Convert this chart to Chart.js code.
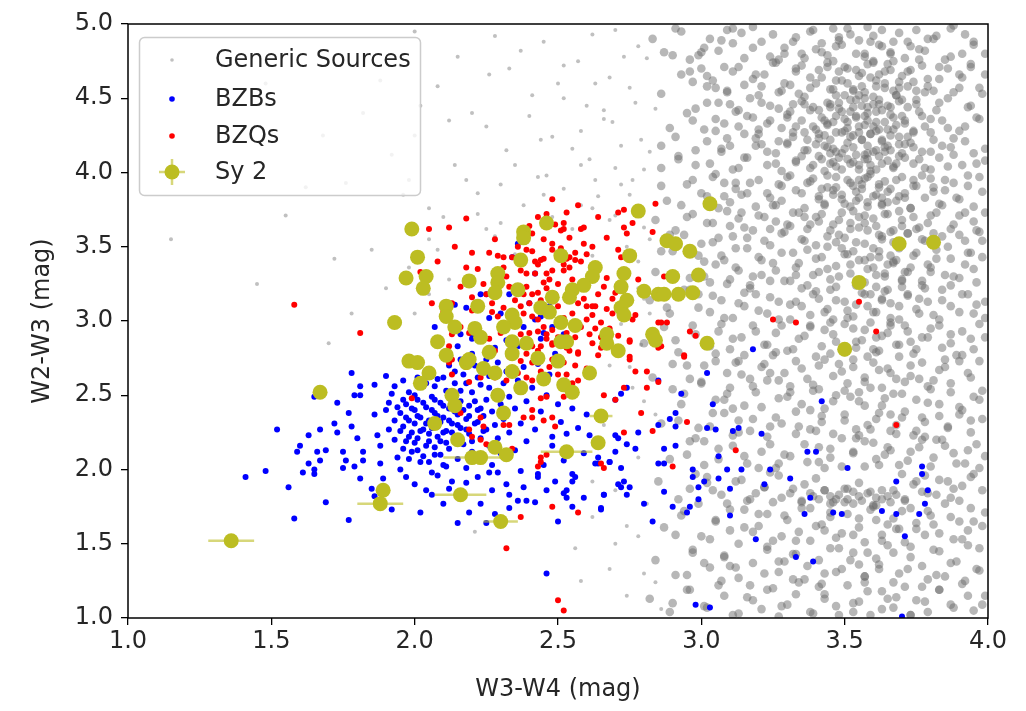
<!DOCTYPE html>
<html>
<head>
<meta charset="utf-8">
<script src="https://cdn.jsdelivr.net/npm/chart.js@4.4.1/dist/chart.umd.min.js"></script>
<style>
  html, body { margin: 0; padding: 0; background: #fff; }
  #wrap { width: 1026px; height: 711px; }
</style>
</head>
<body>
<div id="wrap"><canvas id="colourChart" width="1026" height="711"></canvas></div>
<script>
// tick labels
const xTickLabels = ['1.0', '1.5', '2.0', '2.5', '3.0', '3.5', '4.0'];
const yTickLabels = ['1.0', '1.5', '2.0', '2.5', '3.0', '3.5', '4.0', '4.5', '5.0'];

// Generic Sources [W3-W4, W2-W3]: the lone ones left of the cloud
const genericSparse = [
  [2.62,4.93],[2.78,4.85],[2.45,4.88],[2.70,4.96],[2.52,4.72],[2.68,4.64],[2.81,4.77],[2.33,4.70],[2.41,4.52],[2.60,4.45],[2.75,4.57],[2.84,4.43],[2.25,4.31],[2.48,4.24],[2.66,4.36],[2.79,4.22],[2.58,4.28],[2.12,4.35],[1.92,4.12],[2.35,4.05],[2.55,4.16],[2.70,4.03],[2.82,4.14],[2.61,4.09],[1.76,3.93],[2.22,3.86],[2.43,3.97],[2.64,3.84],[2.76,3.95],[2.52,3.89],[1.55,3.71],[2.05,3.76],[2.30,3.66],[2.58,3.78],[2.80,3.63],[2.70,3.71],[1.15,3.55],[1.85,3.48],[2.28,3.57],[2.62,3.44],[2.82,3.55],[2.74,3.50],[1.45,3.25],[1.98,3.36],[2.78,3.22],[2.05,3.18],[2.82,3.05],[2.79,2.84],[2.75,2.69],[2.80,2.46],[2.84,2.37],[2.78,2.08],[2.70,1.86],[2.62,1.68],[2.81,1.77],[2.56,1.47],[2.78,1.55],[2.21,1.58],[2.68,1.33],[2.84,1.24],[2.74,1.15],[2.86,1.06],
  [1.88,4.62],[2.02,4.45],[2.15,4.78],[2.18,3.95],[2.32,4.15],[2.38,3.78],[2.50,4.60],[2.55,3.62],[2.63,3.95],[2.66,4.42],[2.72,4.18],[2.75,3.85],[2.05,3.55],[2.22,3.72],[1.96,3.85],[2.40,4.38],[2.46,3.98],[2.68,3.68],[2.35,3.45],[2.12,3.28],[1.72,3.42],[2.00,4.95],[2.28,4.92],[1.68,4.25],
  [2.00,3.05],[2.08,3.48],[1.90,3.22],[2.25,3.62],[1.70,2.85],[1.78,3.05],[2.45,3.85],
  [1.95,4.72],[2.08,4.58],[2.20,4.40],[2.26,4.66],[2.37,4.82],[2.44,4.22],[2.52,4.50],[2.57,4.75],[2.63,4.60],[2.69,4.34],[2.73,4.78],[2.77,4.47],[2.80,4.02],[2.58,4.05],[2.48,3.70],[2.62,3.76],[2.72,3.92],[2.30,3.92],[2.14,4.05],[2.00,4.25],[1.82,4.40],[2.10,3.70],[2.40,3.60],[2.78,3.40],[2.80,3.15],[2.72,2.98],[2.76,2.55],[2.66,2.30],[2.62,1.92],[2.70,1.50],[2.58,1.25],[2.80,1.30],[2.74,1.62],[2.68,2.70],[1.62,3.90],[1.48,4.60],[1.98,3.95]
];

// Generic Sources [W3-W4, W2-W3]: the crowded cloud on the right
const genericCloud = [
  [3.52,4.93],[2.87,4.81],[3.71,4.77],[3.18,4.98],[3.95,4.86],[3.44,4.79],[3.03,4.90],[3.63,4.96],[3.29,4.84],[2.96,4.76],[3.82,4.92],[3.57,4.80],[3.11,4.87],[3.38,4.95],[3.76,4.83],[2.91,4.97],[3.67,4.88],[3.24,4.78],[3.49,4.86],[3.88,4.99],[3.06,4.82],[3.60,4.75],[3.33,4.91],[3.99,4.80],[3.14,4.94],[3.46,4.97],[3.73,4.85],[3.21,4.88],[2.99,4.79],[3.55,4.89],[3.85,4.76],[3.40,4.83],[3.66,4.81],[3.09,4.96],[3.92,4.93],[3.27,4.76],[3.58,4.98],[3.79,4.90],[3.35,4.80],[3.48,4.91],[3.69,4.94],[2.83,4.90],[3.01,4.84],[3.62,4.86],[3.42,4.87],
  [3.47,4.62],[3.13,4.71],[3.81,4.55],[2.93,4.66],[3.58,4.73],[3.36,4.51],[3.72,4.68],[3.05,4.57],[3.64,4.60],[3.25,4.74],[3.91,4.64],[3.41,4.69],[2.86,4.53],[3.53,4.56],[3.18,4.63],[3.77,4.72],[3.00,4.70],[3.68,4.52],[3.31,4.59],[3.86,4.70],[3.56,4.67],[3.09,4.54],[3.44,4.74],[3.61,4.58],[3.22,4.66],[3.97,4.57],[3.50,4.71],[3.74,4.61],[3.38,4.64],[2.97,4.61],[3.65,4.73],[3.28,4.55],[3.83,4.63],[3.55,4.52],[3.15,4.59],[3.70,4.65],[3.45,4.56],[3.94,4.71],[3.33,4.70],[3.59,4.64],[3.02,4.65],[3.79,4.58],[3.51,4.60],[3.20,4.52],[3.66,4.69],[3.88,4.54],[3.40,4.60],[3.62,4.66],[3.11,4.68],[3.75,4.55],[3.48,4.68],[3.57,4.54],[3.35,4.72],[3.99,4.66],[3.69,4.57],
  [3.54,4.38],[3.21,4.47],[3.67,4.29],[3.39,4.44],[3.08,4.33],[3.76,4.41],[3.47,4.27],[3.60,4.46],[2.95,4.40],[3.33,4.31],[3.71,4.35],[3.52,4.49],[3.15,4.26],[3.63,4.42],[3.42,4.37],[3.86,4.30],[3.27,4.43],[3.57,4.32],[3.02,4.47],[3.69,4.48],[3.49,4.41],[3.80,4.36],[3.36,4.27],[3.59,4.26],[3.24,4.35],[3.45,4.46],[3.74,4.27],[3.12,4.41],[3.64,4.34],[3.51,4.30],[3.93,4.44],[3.30,4.39],[3.56,4.45],[3.66,4.39],[3.40,4.29],[3.83,4.47],[3.18,4.37],[3.61,4.28],[3.46,4.34],[3.72,4.44],[3.05,4.28],[3.58,4.40],[3.35,4.48],[3.78,4.31],[3.50,4.36],[3.62,4.49],[3.43,4.25],[3.97,4.36],[3.28,4.30],[3.68,4.32],[3.55,4.27],[2.89,4.30],[3.38,4.42],[3.53,4.44],[3.70,4.38],[3.48,4.47],[3.90,4.28],[3.20,4.29],[3.65,4.45],[3.44,4.32],[3.58,4.35],[3.10,4.46],[3.75,4.49],[3.32,4.46],[3.60,4.31],
  [3.49,4.13],[3.63,4.21],[3.26,4.06],[3.71,4.10],[3.40,4.19],[3.55,4.02],[3.07,4.16],[3.81,4.22],[3.46,4.07],[3.60,4.14],[3.19,4.23],[3.67,4.04],[3.35,4.11],[3.52,4.24],[2.92,4.09],[3.74,4.17],[3.43,4.01],[3.58,4.18],[3.13,4.03],[3.88,4.12],[3.30,4.20],[3.65,4.08],[3.50,4.16],[3.78,4.03],[3.23,4.14],[3.57,4.09],[3.41,4.23],[3.96,4.06],[3.69,4.19],[3.02,4.21],[3.47,4.04],[3.62,4.11],[3.37,4.15],[3.84,4.18],[3.54,4.12],[3.16,4.10],[3.72,4.24],[3.44,4.17],[3.59,4.05],[3.28,4.01],[3.66,4.15],[3.92,4.21],[3.51,4.20],[3.33,4.08],[3.76,4.09],[3.10,4.18],[3.61,4.02],[3.48,4.10],[3.70,4.13],[2.98,4.05],[3.39,4.05],[3.56,4.22],[3.80,4.14],[3.21,4.19],[3.64,4.17],[3.45,4.13],[3.99,4.16],[3.53,4.07],[3.32,4.24],[3.68,4.06],[3.58,4.13],[3.86,4.04],[3.42,4.09],[2.86,4.18],[3.73,4.20],
  [2.86,3.91],[2.93,3.78],[2.97,3.95],[3.02,3.84],[3.05,3.99],[3.10,3.80],[3.12,3.89],[3.17,3.93],[3.19,3.77],[3.23,3.86],[3.28,3.81],[3.30,3.97],[3.33,3.88],[3.36,3.76],[3.37,3.93],[3.41,3.84],[3.43,3.79],[3.44,3.98],[3.47,3.90],[3.49,3.82],[3.51,3.95],[3.52,3.77],[3.54,3.87],[3.56,3.92],[3.58,3.80],[3.59,3.99],[3.61,3.85],[3.63,3.78],[3.64,3.94],[3.66,3.89],[3.68,3.81],[3.70,3.97],[3.71,3.86],[3.73,3.76],[3.75,3.91],[3.78,3.83],[3.80,3.96],[3.83,3.79],[3.85,3.88],[3.88,3.93],[3.90,3.82],[3.93,3.98],[3.95,3.77],[3.98,3.87],[3.46,3.85],[3.55,3.83],[3.62,3.90],[3.39,3.96],[3.69,3.84],[3.27,3.92],[3.14,3.85],[3.50,3.79],[3.57,3.96],[3.65,3.80],[3.08,3.93],[3.81,3.90],[3.25,3.78],[3.53,3.91],[3.74,3.95],[3.42,3.89],
  [2.89,3.58],[2.95,3.70],[3.00,3.52],[3.04,3.66],[3.09,3.74],[3.11,3.57],[3.15,3.63],[3.20,3.71],[3.22,3.54],[3.26,3.67],[3.29,3.60],[3.32,3.73],[3.35,3.55],[3.38,3.65],[3.40,3.51],[3.42,3.72],[3.45,3.61],[3.48,3.68],[3.50,3.56],[3.53,3.74],[3.55,3.63],[3.57,3.52],[3.60,3.69],[3.62,3.58],[3.65,3.72],[3.67,3.53],[3.70,3.64],[3.72,3.59],[3.74,3.70],[3.77,3.55],[3.79,3.66],[3.82,3.73],[3.84,3.57],[3.87,3.62],[3.90,3.71],[3.92,3.54],[3.95,3.67],[3.97,3.60],[3.99,3.73],[3.36,3.70],[3.47,3.53],[3.58,3.61],[3.69,3.74],[3.52,3.66],[3.63,3.55],[3.44,3.57],[3.75,3.62],[3.13,3.69],[3.24,3.62],[3.06,3.56],[3.81,3.59],[3.31,3.64],[3.57,3.71],[3.66,3.60],[3.41,3.67],
  [2.84,3.33],[2.90,3.47],[2.96,3.29],[3.01,3.40],[3.03,3.26],[3.07,3.44],[3.12,3.36],[3.16,3.49],[3.18,3.30],[3.21,3.41],[3.26,3.34],[3.28,3.46],[3.31,3.27],[3.34,3.39],[3.37,3.48],[3.39,3.31],[3.42,3.43],[3.45,3.28],[3.47,3.37],[3.50,3.45],[3.52,3.32],[3.55,3.41],[3.57,3.26],[3.60,3.36],[3.62,3.47],[3.64,3.30],[3.67,3.40],[3.69,3.49],[3.72,3.33],[3.74,3.44],[3.77,3.27],[3.79,3.38],[3.82,3.48],[3.85,3.31],[3.87,3.42],[3.90,3.29],[3.93,3.46],[3.95,3.35],[3.98,3.43],[3.24,3.27],[3.49,3.49],[3.59,3.43],[3.70,3.28],[3.44,3.35],[3.65,3.38],[3.53,3.47],[3.33,3.31],[3.80,3.36],[3.10,3.28],[3.61,3.31],
  [2.82,3.14],[2.89,3.05],[2.94,3.21],[2.99,3.09],[3.04,3.17],[3.08,3.02],[3.13,3.12],[3.17,3.24],[3.20,3.07],[3.24,3.16],[3.27,3.01],[3.31,3.11],[3.35,3.22],[3.38,3.04],[3.41,3.15],[3.44,3.08],[3.47,3.23],[3.50,3.13],[3.53,3.03],[3.56,3.19],[3.58,3.10],[3.61,3.06],[3.64,3.20],[3.66,3.12],[3.69,3.01],[3.72,3.17],[3.75,3.08],[3.78,3.22],[3.81,3.04],[3.84,3.14],[3.87,3.24],[3.90,3.06],[3.93,3.18],[3.96,3.11],[3.99,3.02],[3.46,3.01],[3.54,3.24],[3.63,3.14],[3.70,3.23],[3.40,3.20],[3.59,3.18],[3.33,3.13],[3.76,3.15],[3.15,3.19],[3.51,3.07],
  [2.80,2.85],[2.87,2.96],[2.92,2.79],[2.98,2.91],[3.03,2.83],[3.07,2.98],[3.11,2.88],[3.15,2.77],[3.19,2.93],[3.23,2.84],[3.28,2.97],[3.32,2.81],[3.36,2.90],[3.40,2.76],[3.43,2.94],[3.47,2.86],[3.50,2.79],[3.53,2.95],[3.56,2.87],[3.59,2.99],[3.62,2.80],[3.65,2.92],[3.68,2.84],[3.71,2.97],[3.74,2.78],[3.77,2.89],[3.80,2.95],[3.84,2.82],[3.87,2.91],[3.91,2.77],[3.94,2.88],[3.97,2.98],[3.58,2.76],[3.45,2.99],[3.66,2.99],[3.26,2.79],[3.54,2.82],[3.73,2.86],[3.38,2.97],[3.61,2.89],
  [2.83,2.62],[2.90,2.54],[2.95,2.70],[3.00,2.58],[3.05,2.73],[3.09,2.51],[3.14,2.64],[3.18,2.56],[3.22,2.71],[3.27,2.60],[3.31,2.52],[3.35,2.68],[3.39,2.57],[3.43,2.74],[3.46,2.63],[3.50,2.53],[3.53,2.69],[3.57,2.59],[3.60,2.72],[3.63,2.55],[3.66,2.65],[3.70,2.51],[3.73,2.70],[3.76,2.61],[3.80,2.54],[3.83,2.67],[3.87,2.58],[3.90,2.73],[3.94,2.62],[3.98,2.53],[3.48,2.71],[3.55,2.52],[3.68,2.61],[3.24,2.65],[3.41,2.54],[3.62,2.67],[3.85,2.74],[3.12,2.72],
  [2.86,2.31],[2.93,2.44],[2.99,2.28],[3.04,2.38],[3.08,2.47],[3.13,2.33],[3.17,2.26],[3.21,2.42],[3.26,2.35],[3.30,2.49],[3.34,2.29],[3.38,2.40],[3.42,2.32],[3.46,2.46],[3.50,2.37],[3.54,2.27],[3.57,2.43],[3.61,2.34],[3.64,2.48],[3.68,2.30],[3.71,2.39],[3.75,2.26],[3.79,2.45],[3.83,2.36],[3.86,2.28],[3.90,2.42],[3.94,2.33],[3.97,2.47],[3.52,2.49],[3.40,2.26],[3.66,2.37],[3.24,2.29],[3.59,2.27],[3.77,2.35],[3.11,2.41],
  [2.89,2.07],[2.96,2.19],[3.01,2.03],[3.06,2.14],[3.11,2.23],[3.15,2.09],[3.20,2.01],[3.24,2.17],[3.29,2.10],[3.33,2.24],[3.37,2.05],[3.41,2.15],[3.45,2.08],[3.49,2.21],[3.53,2.12],[3.57,2.02],[3.60,2.18],[3.64,2.10],[3.68,2.24],[3.72,2.06],[3.76,2.15],[3.80,2.02],[3.84,2.20],[3.88,2.11],[3.92,2.04],[3.96,2.17],[3.99,2.09],[3.55,2.23],[3.43,2.01],[3.66,2.13],[3.27,2.04],[3.62,2.03],[3.78,2.22],
  [2.85,1.92],[2.92,1.80],[2.98,1.97],[3.04,1.86],[3.09,1.77],[3.14,1.93],[3.19,1.84],[3.24,1.98],[3.28,1.81],[3.32,1.87],[3.35,1.79],[3.38,1.84],[3.41,1.80],[3.43,1.86],[3.46,1.78],[3.48,1.83],[3.51,1.80],[3.53,1.85],[3.56,1.79],[3.58,1.84],[3.61,1.81],[3.63,1.86],[3.66,1.78],[3.68,1.83],[3.71,1.80],[3.74,1.90],[3.78,1.96],[3.82,1.83],[3.86,1.92],[3.90,1.79],[3.94,1.95],[3.98,1.86],[3.40,1.94],[3.55,1.91],[3.70,1.97],[3.22,1.88],[3.60,1.76],[3.45,1.82],[3.65,1.82],[3.50,1.87],[3.36,1.90],[3.16,1.79],[3.88,1.87],[3.02,1.91],[3.77,1.85],
  [2.87,1.61],[2.94,1.72],[3.00,1.55],[3.05,1.66],[3.10,1.59],[3.15,1.73],[3.20,1.62],[3.25,1.52],[3.29,1.69],[3.34,1.58],[3.38,1.74],[3.42,1.63],[3.47,1.54],[3.51,1.70],[3.55,1.61],[3.59,1.73],[3.63,1.56],[3.67,1.67],[3.71,1.51],[3.75,1.64],[3.79,1.72],[3.83,1.57],[3.87,1.68],[3.91,1.53],[3.95,1.65],[3.99,1.71],[3.45,1.68],[3.57,1.51],[3.69,1.60],[3.33,1.52],[3.61,1.66],[3.81,1.63],[3.23,1.70],[3.49,1.57],[3.73,1.74],
  [2.84,1.39],[2.91,1.29],[2.97,1.46],[3.03,1.34],[3.08,1.42],[3.13,1.27],[3.18,1.37],[3.23,1.48],[3.27,1.31],[3.32,1.43],[3.36,1.26],[3.41,1.39],[3.45,1.47],[3.49,1.33],[3.53,1.44],[3.57,1.28],[3.61,1.40],[3.65,1.49],[3.69,1.30],[3.73,1.41],[3.77,1.35],[3.81,1.46],[3.85,1.28],[3.89,1.38],[3.93,1.49],[3.97,1.32],[3.55,1.36],[3.43,1.30],[3.67,1.44],[3.29,1.38],[3.79,1.26],[3.10,1.35],[3.62,1.33],
  [2.82,1.13],[2.89,1.04],[2.95,1.19],[3.01,1.08],[3.06,1.22],[3.11,1.02],[3.16,1.14],[3.21,1.06],[3.25,1.20],[3.30,1.09],[3.34,1.24],[3.39,1.03],[3.43,1.16],[3.47,1.08],[3.51,1.22],[3.55,1.11],[3.59,1.02],[3.63,1.18],[3.67,1.07],[3.71,1.21],[3.75,1.12],[3.79,1.04],[3.83,1.19],[3.87,1.09],[3.91,1.23],[3.95,1.05],[3.99,1.15],[3.53,1.04],[3.41,1.21],[3.65,1.13],[3.27,1.01],[3.57,1.24],[3.73,1.02]
];

// Generic Sources [W3-W4, W2-W3]: further sources filling the same cloud
const genericCloudFill = [
  [2.93,4.95],[3.00,4.81],[3.07,4.89],[3.11,4.97],[3.18,4.84],[3.25,4.93],[3.29,4.80],[3.32,4.88],[3.39,4.96],[3.42,4.81],[3.48,4.89],[3.51,4.97],[3.54,4.80],[3.60,4.92],[3.63,4.85],[3.66,4.80],[3.72,4.88],[3.75,4.96],[3.78,4.82],[3.81,4.90],[3.87,4.97],[3.91,4.80],[3.95,4.88],[3.47,4.85],[3.59,4.88],
  [2.90,4.79],[2.96,4.68],[3.04,4.62],[3.08,4.71],[3.15,4.77],[3.19,4.66],[3.26,4.74],[3.29,4.60],[3.33,4.68],[3.36,4.77],[3.42,4.64],[3.46,4.75],[3.49,4.62],[3.51,4.70],[3.55,4.65],[3.57,4.78],[3.60,4.74],[3.64,4.68],[3.67,4.75],[3.69,4.61],[3.73,4.69],[3.76,4.76],[3.79,4.63],[3.83,4.71],[3.87,4.78],[3.90,4.66],[3.94,4.73],[3.54,4.69],[3.61,4.62],[3.44,4.71],
  [2.98,4.43],[3.02,4.58],[3.06,4.47],[3.09,4.55],[3.13,4.42],[3.17,4.50],[3.21,4.58],[3.24,4.45],[3.27,4.54],[3.31,4.41],[3.34,4.53],[3.36,4.46],[3.38,4.57],[3.41,4.42],[3.44,4.47],[3.46,4.56],[3.48,4.43],[3.50,4.52],[3.52,4.41],[3.54,4.49],[3.56,4.58],[3.58,4.44],[3.60,4.51],[3.62,4.46],[3.64,4.57],[3.66,4.44],[3.68,4.52],[3.70,4.49],[3.72,4.58],[3.75,4.46],[3.78,4.54],[3.82,4.42],[3.86,4.50],[3.90,4.57],[3.94,4.45],[3.98,4.53],[3.45,4.44],[3.53,4.55],[3.61,4.41],[3.67,4.55],[3.47,4.52],[3.57,4.50],
  [2.91,4.24],[2.97,4.35],[3.01,4.29],[3.05,4.36],[3.09,4.23],[3.13,4.31],[3.16,4.38],[3.20,4.26],[3.23,4.33],[3.27,4.21],[3.30,4.37],[3.32,4.27],[3.35,4.35],[3.37,4.22],[3.39,4.31],[3.41,4.26],[3.43,4.35],[3.45,4.22],[3.47,4.38],[3.49,4.27],[3.51,4.34],[3.53,4.25],[3.55,4.31],[3.57,4.38],[3.59,4.26],[3.61,4.34],[3.63,4.22],[3.65,4.29],[3.67,4.37],[3.69,4.24],[3.71,4.33],[3.74,4.28],[3.77,4.38],[3.80,4.27],[3.84,4.35],[3.88,4.23],[3.92,4.31],[3.96,4.37],[3.50,4.28],[3.56,4.22],[3.62,4.29],[3.44,4.33],[3.54,4.37],[3.66,4.25],
  [2.86,4.03],[2.92,4.11],[2.98,4.15],[3.03,4.06],[3.07,4.14],[3.11,4.02],[3.15,4.10],[3.19,4.18],[3.23,4.05],[3.26,4.13],[3.30,4.19],[3.33,4.07],[3.36,4.15],[3.38,4.03],[3.41,4.11],[3.43,4.18],[3.45,4.06],[3.47,4.14],[3.49,4.02],[3.51,4.09],[3.53,4.17],[3.55,4.05],[3.57,4.12],[3.59,4.01],[3.61,4.15],[3.63,4.06],[3.65,4.18],[3.67,4.03],[3.69,4.11],[3.71,4.19],[3.74,4.06],[3.77,4.14],[3.80,4.02],[3.83,4.10],[3.87,4.17],[3.91,4.05],[3.95,4.13],[3.99,4.08],[3.52,4.06],[3.58,4.09],[3.64,4.14],[3.46,4.16],
  [2.88,3.81],[2.95,3.92],[3.00,3.86],[3.04,3.97],[3.08,3.84],[3.12,3.93],[3.16,3.86],[3.20,3.95],[3.24,3.83],[3.28,3.91],[3.31,3.98],[3.35,3.86],[3.38,3.94],[3.41,3.82],[3.44,3.90],[3.47,3.97],[3.49,3.85],[3.52,3.93],[3.54,3.81],[3.56,3.89],[3.58,3.97],[3.60,3.84],[3.62,3.92],[3.65,3.87],[3.68,3.95],[3.71,3.83],[3.74,3.91],[3.77,3.98],[3.81,3.87],[3.85,3.95],[3.89,3.83],[3.93,3.91],[3.97,3.97],[3.55,3.95],[3.63,3.83],[3.46,3.88],
  [2.84,3.68],[2.91,3.61],[2.97,3.72],[3.02,3.66],[3.06,3.76],[3.10,3.64],[3.14,3.73],[3.18,3.61],[3.22,3.70],[3.26,3.78],[3.30,3.65],[3.34,3.73],[3.37,3.62],[3.40,3.70],[3.43,3.78],[3.46,3.65],[3.49,3.73],[3.52,3.62],[3.55,3.70],[3.58,3.77],[3.61,3.64],[3.64,3.72],[3.67,3.61],[3.70,3.68],[3.73,3.76],[3.76,3.63],[3.80,3.71],[3.84,3.78],[3.88,3.65],[3.92,3.73],[3.96,3.61],[3.57,3.66],[3.63,3.79],
  [2.86,3.47],[2.94,3.58],[2.99,3.44],[3.04,3.53],[3.08,3.41],[3.12,3.49],[3.16,3.56],[3.20,3.43],[3.24,3.51],[3.28,3.59],[3.32,3.46],[3.36,3.54],[3.40,3.42],[3.44,3.50],[3.48,3.58],[3.51,3.45],[3.54,3.53],[3.57,3.41],[3.60,3.49],[3.63,3.57],[3.66,3.44],[3.69,3.52],[3.72,3.59],[3.75,3.46],[3.78,3.54],[3.82,3.42],[3.86,3.50],[3.90,3.58],[3.94,3.46],[3.98,3.54],[3.62,3.43],[3.68,3.41],
  [2.90,3.31],[2.96,3.21],[3.01,3.30],[3.05,3.38],[3.09,3.25],[3.13,3.34],[3.17,3.22],[3.21,3.31],[3.25,3.39],[3.29,3.27],[3.33,3.36],[3.37,3.24],[3.41,3.33],[3.45,3.21],[3.48,3.30],[3.52,3.38],[3.55,3.26],[3.58,3.35],[3.61,3.23],[3.64,3.32],[3.67,3.39],[3.70,3.27],[3.73,3.36],[3.77,3.24],[3.80,3.33],[3.84,3.21],[3.88,3.30],[3.92,3.38],[3.96,3.26],[3.65,3.21],[3.71,3.33],
  [2.88,3.09],[2.99,3.18],[3.03,3.06],[3.07,3.14],[3.11,3.02],[3.15,3.10],[3.19,3.18],[3.23,3.05],[3.27,3.13],[3.31,3.01],[3.35,3.10],[3.39,3.18],[3.43,3.06],[3.47,3.14],[3.51,3.02],[3.54,3.11],[3.57,3.18],[3.60,3.06],[3.63,3.15],[3.66,3.02],[3.69,3.10],[3.72,3.18],[3.76,3.05],[3.79,3.13],[3.83,3.01],[3.87,3.10],[3.91,3.18],[3.95,3.05],[3.99,3.13],
  [2.91,2.87],[2.97,2.97],[3.02,2.85],[3.06,2.93],[3.10,2.81],[3.14,2.89],[3.18,2.97],[3.22,2.84],[3.26,2.92],[3.30,2.80],[3.34,2.88],[3.38,2.96],[3.42,2.83],[3.46,2.91],[3.50,2.98],[3.54,2.86],[3.57,2.94],[3.60,2.81],[3.63,2.90],[3.66,2.97],[3.69,2.84],[3.72,2.93],[3.75,2.81],[3.79,2.89],[3.83,2.97],[3.87,2.85],[3.91,2.93],[3.95,2.81],[3.99,2.89],
  [2.90,2.71],[2.96,2.61],[3.01,2.70],[3.05,2.78],[3.09,2.65],[3.13,2.73],[3.17,2.61],[3.21,2.69],[3.25,2.77],[3.29,2.65],[3.33,2.73],[3.37,2.61],[3.41,2.70],[3.45,2.78],[3.49,2.66],[3.53,2.74],[3.57,2.62],[3.61,2.79],[3.65,2.68],[3.69,2.76],[3.73,2.63],[3.77,2.72],[3.81,2.60],[3.85,2.69],[3.89,2.77],[3.93,2.65],[3.97,2.73],
  [2.94,2.51],[3.00,2.59],[3.05,2.47],[3.10,2.55],[3.15,2.43],[3.19,2.52],[3.23,2.60],[3.27,2.48],[3.31,2.56],[3.35,2.44],[3.39,2.53],[3.43,2.41],[3.47,2.50],[3.51,2.58],[3.55,2.46],[3.59,2.55],[3.63,2.43],[3.67,2.51],[3.71,2.59],[3.75,2.47],[3.79,2.56],[3.83,2.44],[3.87,2.52],[3.91,2.40],[3.95,2.49],
  [2.92,2.33],[2.98,2.21],[3.03,2.29],[3.08,2.38],[3.13,2.25],[3.18,2.34],[3.23,2.22],[3.28,2.31],[3.33,2.39],[3.38,2.27],[3.42,2.36],[3.46,2.24],[3.50,2.33],[3.54,2.21],[3.58,2.30],[3.62,2.38],[3.66,2.26],[3.70,2.35],[3.74,2.23],[3.78,2.32],[3.82,2.20],[3.86,2.29],[3.90,2.37],[3.94,2.25],[3.98,2.34],
  [2.95,2.10],[3.01,2.19],[3.06,2.07],[3.11,2.16],[3.16,2.04],[3.21,2.12],[3.26,2.01],[3.31,2.09],[3.36,2.17],[3.41,2.05],[3.45,2.14],[3.49,2.02],[3.53,2.11],[3.57,2.19],[3.61,2.07],[3.65,2.15],[3.69,2.03],[3.73,2.12],[3.77,2.20],[3.81,2.08],[3.85,2.16],[3.89,2.04],[3.93,2.13],[3.97,2.01],
  [2.96,1.87],[3.02,1.95],[3.07,1.83],[3.12,1.92],[3.17,1.80],[3.22,1.88],[3.27,1.96],[3.31,1.84],[3.35,1.78],[3.39,1.82],[3.43,1.86],[3.47,1.80],[3.51,1.87],[3.55,1.82],[3.59,1.85],[3.63,1.80],[3.67,1.86],[3.71,1.79],[3.75,1.92],[3.79,1.84],[3.83,1.93],[3.87,1.81],[3.91,1.89],[3.95,1.97],[3.45,1.77],[3.53,1.77],[3.61,1.76],
  [2.93,1.69],[2.99,1.77],[3.05,1.65],[3.10,1.73],[3.15,1.61],[3.20,1.70],[3.25,1.78],[3.30,1.66],[3.35,1.74],[3.40,1.62],[3.45,1.71],[3.50,1.78],[3.55,1.67],[3.60,1.75],[3.65,1.63],[3.70,1.72],[3.75,1.60],[3.80,1.69],[3.85,1.77],[3.90,1.65],[3.94,1.74],[3.98,1.62],
  [2.91,1.56],[2.97,1.44],[3.03,1.53],[3.08,1.41],[3.13,1.50],[3.18,1.58],[3.23,1.46],[3.28,1.55],[3.33,1.43],[3.38,1.52],[3.43,1.59],[3.48,1.47],[3.53,1.56],[3.58,1.44],[3.63,1.52],[3.68,1.60],[3.73,1.48],[3.78,1.56],[3.83,1.45],[3.88,1.53],[3.93,1.59],[3.97,1.47],
  [2.95,1.29],[3.01,1.37],[3.07,1.25],[3.12,1.34],[3.17,1.22],[3.22,1.30],[3.27,1.38],[3.32,1.26],[3.37,1.35],[3.42,1.23],[3.47,1.31],[3.52,1.39],[3.57,1.28],[3.62,1.36],[3.67,1.24],[3.72,1.33],[3.77,1.21],[3.82,1.29],[3.87,1.37],[3.92,1.25],[3.96,1.33],
  [2.90,1.10],[2.96,1.19],[3.02,1.07],[3.08,1.15],[3.13,1.03],[3.18,1.12],[3.23,1.19],[3.28,1.08],[3.33,1.16],[3.38,1.04],[3.43,1.13],[3.48,1.02],[3.53,1.10],[3.58,1.18],[3.63,1.06],[3.68,1.14],[3.73,1.02],[3.78,1.11],[3.83,1.19],[3.88,1.07],[3.93,1.15],[3.98,1.09]
];

// BZBs [W3-W4, W2-W3]
const bzbPoints = [
  [1.41,1.95],[1.48,1.99],[1.52,2.27],[1.56,1.88],[1.58,1.67],[1.59,2.12],[1.60,2.16],[1.63,2.23],[1.61,1.98],[1.63,2.04],[1.65,1.97],[1.65,2.00],[1.65,2.49],[1.66,2.12],[1.67,2.27],[1.67,2.06],[1.69,1.78],[1.69,2.13],[1.72,2.31],[1.73,2.45],[1.73,2.25],[1.75,2.12],[1.75,2.01],[1.76,2.06],[1.77,1.66],[1.77,2.38],[1.78,2.65],[1.78,2.29],[1.79,2.02],[1.79,2.50],[1.80,2.21],[1.81,2.56],[1.81,2.50],[1.81,1.94],[1.82,2.12],[1.82,2.06],[1.85,1.87],[1.86,1.82],[1.86,2.57],[1.86,2.37],[1.87,2.23],[1.88,2.16],[1.88,2.04],[1.90,2.63],[1.89,1.94],[1.90,2.40],[1.91,2.27],[1.92,1.73],[1.92,2.51],[1.91,2.45],[1.93,2.33],[1.93,2.20],[1.94,2.08],
  [1.95,2.38],[1.96,2.29],[1.97,2.44],[1.97,2.19],[1.98,2.33],[1.98,2.52],[1.99,2.25],[1.99,2.12],[2.00,2.40],[2.00,2.31],[2.01,2.21],[2.01,2.47],[2.02,2.35],[2.02,2.05],[2.03,2.27],[2.03,2.56],[2.04,2.42],[2.04,2.16],[2.05,2.33],[2.05,2.24],[2.06,2.49],[2.06,1.98],[2.07,2.38],[2.07,2.10],[2.08,2.29],[2.08,2.61],[2.09,2.45],[2.09,2.19],[2.10,2.35],[2.10,2.03],[2.11,2.26],[2.11,2.53],[2.12,2.41],[2.12,2.14],[2.13,2.31],[2.13,1.92],[2.14,2.22],[2.14,2.58],[2.15,2.37],[2.15,2.07],[2.16,2.46],[2.16,2.28],[2.17,2.17],[2.17,2.64],[2.18,2.34],[2.18,2.01],[2.19,2.43],[2.19,2.24],[2.20,2.52],[2.20,2.12],[2.21,2.31],[2.21,2.70],[2.22,2.40],[2.22,1.95],[2.23,2.21],[2.23,2.57],[2.24,2.36],[2.24,2.09],[2.25,2.47],[2.25,2.27],[2.26,2.63],[2.26,2.16],[2.27,2.39],[2.27,2.03],[2.28,2.52],[2.28,2.30],[2.29,2.72],[2.29,2.21],[2.30,2.44],[2.30,2.11],[2.31,2.58],[2.31,2.34],[2.32,2.66],[2.32,1.90],[2.33,2.49],[2.33,2.25],[2.34,2.77],[2.35,2.41],[2.35,2.13],[2.36,2.60],[2.37,2.31],[2.37,1.99],[2.38,2.69],[2.39,2.46],[2.39,2.19],[2.40,2.83],[2.41,2.55],[2.42,2.27],[2.43,2.71],[2.44,2.39],[2.45,2.92],[2.46,2.50],[2.47,2.64],[2.48,2.22],[2.49,2.78],[2.50,2.44],
  [1.95,2.26],[1.96,2.47],[1.97,2.35],[1.98,2.22],[1.99,2.41],[2.00,2.18],[2.00,2.50],[2.01,2.36],[2.02,2.26],[2.03,2.45],[2.04,2.31],[2.05,2.19],[2.06,2.40],[2.06,2.28],[2.07,2.47],[2.08,2.36],[2.08,2.22],[2.09,2.32],[2.10,2.43],[2.10,2.25],[2.11,2.18],[2.12,2.33],[2.12,2.50],[2.13,2.25],[2.14,2.39],[2.15,2.30],[2.16,2.20],[2.16,2.53],[2.17,2.40],[2.18,2.27],[2.19,2.36],[2.20,2.19],[2.21,2.46],[2.22,2.32],[2.23,2.41],[2.24,2.26],[1.94,2.42],[1.96,2.14],[1.98,2.07],[2.01,2.13],[2.03,2.09],[2.05,2.05],[2.07,2.15],[2.09,2.10],[2.11,2.02],[1.95,2.00],[1.97,1.95],[2.00,1.90],[2.04,1.86],[2.08,1.96],[1.93,2.56],[1.96,2.60],[2.01,2.62],[2.04,2.58],[2.07,2.56],[2.10,2.62],[2.14,2.66],[2.18,2.58],[2.22,2.62],[2.26,2.55],[2.12,2.70],[2.16,2.74],[2.20,2.78],[2.25,2.74],[2.28,2.82],[2.32,2.87],[2.36,2.83],[2.30,2.94],[2.38,2.96],[2.42,3.01],[2.35,3.05],[2.44,2.88],[2.47,3.10],[2.40,3.12],[2.33,3.18],[2.26,3.02],[2.20,2.88],[2.15,2.83],
  [2.36,3.52],[2.34,3.43],[2.42,3.32],[2.23,3.18],[2.25,3.18],[2.07,2.96],[2.18,3.09],[2.14,3.11],[2.16,2.91],[2.20,2.91],[2.30,3.05],[2.44,3.03],[2.48,2.96],[2.52,2.91],
  [2.02,1.71],[2.10,1.77],[2.15,1.64],[2.23,1.77],[2.26,1.98],[2.29,1.98],[2.33,1.83],[2.33,1.74],[2.36,1.79],[2.39,1.79],[2.42,1.78],[2.43,1.97],[2.43,1.95],[2.50,1.65],[2.38,1.88],[2.46,1.86],[2.49,1.92],[2.53,1.81],[2.45,2.03],[2.52,2.06],[2.56,1.95],[2.06,1.83],[2.12,1.87],[2.18,1.91],[2.19,1.71],[2.27,1.86],[2.25,1.64],[2.46,1.30],[2.28,1.70],
  [2.55,2.41],[2.57,2.28],[2.53,2.24],[2.61,2.23],[2.59,2.11],[2.64,2.08],[2.64,2.04],[2.63,2.04],[2.68,2.05],[2.55,1.97],[2.55,1.92],[2.53,1.86],[2.52,1.84],[2.55,1.75],[2.59,1.81],[2.65,1.73],[2.66,1.83],[2.51,2.32],[2.56,2.52],[2.60,2.37],[2.48,2.16],
  [3.18,2.81],[3.02,2.65],[2.85,2.60],[2.74,2.55],[2.72,2.51],[2.70,2.47],[3.42,2.46],[2.93,2.51],[3.04,2.44],[2.91,2.38],[2.89,2.34],[2.91,2.29],[2.85,2.30],[3.02,2.28],[3.05,2.27],[3.11,2.26],[3.13,2.28],[3.21,2.24],[2.78,2.25],[2.70,2.23],[2.71,2.21],[2.74,2.17],[2.77,2.14],[2.87,2.14],[2.91,2.16],[3.37,2.12],[3.40,2.12],[3.06,2.09],[2.70,2.12],[2.68,2.05],[2.72,2.01],[2.85,2.04],[2.87,2.04],[2.97,2.00],[2.97,1.95],[3.09,2.00],[3.14,2.00],[3.24,2.00],[3.06,1.94],[3.51,2.01],[3.31,1.94],[3.22,1.90],[3.01,1.92],[2.99,1.88],[3.68,1.92],[3.77,2.02],[3.77,1.97],[3.79,1.86],[2.73,1.92],[2.71,1.90],[2.75,1.88],[2.74,1.83],[2.72,1.88],[2.87,1.85],[2.66,1.83],[2.65,1.74],[2.80,1.77],[2.90,1.75],[2.96,1.75],[2.95,1.71],[2.99,1.80],[3.10,1.87],[3.10,1.69],[3.38,1.81],[3.36,1.70],[3.46,1.71],[3.49,1.70],[3.63,1.72],[3.68,1.70],[3.76,1.70],[3.78,1.77],[3.71,1.55],[2.83,1.65],[3.19,1.53],[3.33,1.41],[3.39,1.38],[2.98,1.09],[3.70,1.01],[3.03,1.07]
];

// BZQs [W3-W4, W2-W3]
const bzqPoints = [
  [1.58,3.11],[1.81,2.92],[2.32,1.47],[2.50,1.12],[2.52,1.05],[3.25,3.01],[3.33,2.99],[3.55,3.13],[3.61,2.93],[3.68,2.30],[3.12,2.13],[2.95,2.32],[2.90,2.02],[2.83,2.26],[2.79,2.38],[2.73,2.25],[2.81,2.55],[2.73,2.55],[2.66,2.50],[2.70,2.47],[2.77,2.66],[2.81,2.66],[2.85,2.59],[2.94,2.76],[2.96,2.93],[2.98,2.90],[2.85,2.82],[2.75,2.74],[2.66,2.01],[2.65,2.04],[2.86,2.99],[2.88,2.99],[2.75,2.87],
  [2.84,3.79],[2.71,3.73],[2.73,3.75],[2.76,3.66],[2.73,3.63],[2.74,3.59],[2.83,3.60],[2.71,3.48],[2.72,3.43],[2.67,3.29],[2.78,3.28],[2.66,3.23],[2.87,3.30],[2.69,3.15],[2.77,3.04],[2.53,3.73],[2.58,3.62],[2.59,3.63],[2.52,3.66],[2.51,3.61],[2.59,3.52],[2.56,3.46],[2.60,3.45],[2.53,3.42],[2.58,3.40],[2.54,3.36],[2.52,3.34],[2.64,3.18],[2.59,3.15],[2.60,3.10],[2.62,3.10],[2.63,3.10],[2.69,3.05],[2.76,3.01],[2.65,2.99],[2.60,3.01],[2.63,2.95],[2.61,2.91],[2.65,2.89],[2.62,2.85],[2.85,2.99],[2.86,2.83],[2.75,2.86],[2.75,2.76],[2.65,2.82],[2.64,2.77],[2.94,2.77],[2.57,2.78],[2.54,2.80],
  [2.48,3.82],[2.43,3.70],[2.49,3.65],[2.52,3.62],[2.05,3.62],[2.12,3.63],[2.18,3.69],[2.41,3.59],[2.45,3.55],[2.48,3.52],[2.48,3.48],[2.51,3.49],[2.54,3.56],[2.39,3.48],[2.41,3.47],[2.45,3.42],[2.44,3.41],[2.42,3.40],[2.43,3.38],[2.48,3.34],[2.52,3.38],[2.56,3.41],[2.54,3.43],[2.20,3.46],[2.26,3.46],[2.29,3.44],[2.31,3.43],[2.34,3.43],[2.18,3.36],[2.22,3.35],[2.37,3.34],[2.39,3.32],[2.42,3.32],[2.46,3.32],[2.47,3.28],[2.45,3.26],[2.02,3.33],[2.16,3.23],[2.33,3.23],[2.36,3.23],[2.39,3.23],[2.41,3.18],[2.38,3.18],[2.40,3.12],[2.43,3.19],[2.20,3.16],[2.25,3.18],[2.27,3.12],[2.23,3.09],[2.20,3.07],[2.06,3.12],[2.13,3.12],[2.10,3.06],[2.27,3.06],[2.29,3.03],[2.31,3.09],[2.34,3.06],[2.38,3.05],[2.41,3.03],[2.43,3.01],[2.45,2.96],[2.43,2.93],[2.40,2.92],[2.37,2.91],[2.46,2.91],[2.48,2.94],[2.50,2.89],[2.53,2.92],[2.56,2.89],[2.53,2.85],[2.48,2.85],[2.44,2.83],[2.41,2.83],[2.13,2.91],[2.19,2.92],[2.16,2.96],
  [2.46,2.88],[2.48,2.84],[2.51,2.88],[2.53,2.82],[2.57,2.79],[2.43,2.80],[2.39,2.78],[2.37,2.73],[2.41,2.72],[2.44,2.66],[2.47,2.69],[2.50,2.64],[2.53,2.64],[2.57,2.60],[2.41,2.60],[2.39,2.62],[2.36,2.65],[2.32,2.60],[2.28,2.62],[2.23,2.62],[2.19,2.59],[2.18,2.69],[2.13,2.64],[2.13,2.74],[1.99,2.48],[2.16,2.38],[2.23,2.35],[2.24,2.29],[2.19,2.27],[2.23,2.20],[2.25,2.17],[2.20,2.22],[2.34,2.14],[2.38,2.35],[2.41,2.40],[2.41,2.35],[2.45,2.33],[2.48,2.35],[2.49,2.29],[2.44,2.48],[2.46,2.49],[2.31,2.30],[2.33,2.30],[2.46,2.10],[2.44,2.08],[2.44,2.05],[2.43,2.02],[2.37,1.68],[2.48,1.75],[2.57,1.71],[2.52,2.49],[2.55,2.58],[2.12,2.83],[2.12,2.72],
  [2.32,3.30],[2.35,3.14],[2.37,3.10],[2.44,3.14],[2.46,3.22],[2.49,3.18],[2.50,3.10],[2.52,3.02],[2.55,3.05],[2.57,3.12],[2.58,3.24],[2.61,3.28],[2.63,3.35],[2.55,3.28],[2.50,3.25],[2.44,3.08],[2.35,2.98],[2.30,2.92],[2.26,2.88],[2.28,2.80],[2.33,2.76],[2.50,2.98],[2.58,2.96],[2.62,3.04],[2.67,3.08],[2.70,3.19],[2.68,2.95],[2.71,2.90],[2.56,2.70],[2.60,2.68],[2.48,2.74],[2.52,2.72],[2.31,3.36],[2.36,3.50],[2.40,3.64],[2.46,3.72],[2.28,3.55],[2.14,3.50],[2.08,3.40],[2.24,3.25],[2.62,3.50],[2.67,3.56],[2.64,3.70],[2.57,3.78]
];

// Sy 2 [W3-W4, W2-W3, W3-W4 error]
const sy2Points = [
  [1.36,1.52,0.08],[1.67,2.52,0],[1.99,3.62,0],[2.01,3.43,0],[1.97,3.29,0],[2.04,3.30,0],[2.03,3.22,0],[1.93,2.99,0],[1.98,2.73,0],[2.01,2.72,0],[2.05,2.65,0],[2.02,2.58,0],[2.07,2.31,0],[1.89,1.86,0],[1.88,1.77,0.08],[2.16,1.83,0.09],[2.30,1.65,0.06],[2.53,2.12,0.09],[2.64,2.18,0],[2.65,2.36,0.04],
  [2.19,3.27,0],[2.38,3.60,0],[2.38,3.56,0],[2.46,3.66,0],[2.37,3.41,0],[2.51,3.44,0],[2.29,3.32,0],[2.29,3.26,0],[2.28,3.19,0],[2.36,3.21,0],[2.11,3.10,0],[2.11,3.03,0],[2.22,3.10,0],[2.14,2.96,0],[2.21,2.95,0],[2.23,2.89,0],[2.08,2.86,0],[2.34,3.04,0],[2.35,2.99,0],[2.31,2.96,0],[2.44,3.09,0],[2.47,3.06,0],[2.39,2.85,0],[2.34,2.86,0],[2.51,2.99,0],[2.55,3.21,0],[2.54,3.16,0],[2.48,3.16,0],[2.51,2.86,0],[2.53,2.86,0],[2.56,2.97,0],
  [2.78,3.74,0],[3.03,3.79,0],[2.88,3.54,0],[2.91,3.52,0],[2.96,3.47,0],[2.75,3.44,0],[2.63,3.36,0],[2.73,3.32,0],[2.90,3.30,0],[2.99,3.31,0],[2.62,3.30,0],[2.59,3.24,0],[2.72,3.23,0],[2.80,3.20,0],[2.85,3.18,0],[2.87,3.18,0],[2.92,3.18,0],[2.97,3.19,0],[2.74,3.14,0],[2.72,3.09,0],[2.73,3.04,0],[2.83,2.91,0],[2.84,2.87,0],[3.02,2.85,0],[2.67,2.91,0],[2.67,2.85,0],[2.71,2.80,0],
  [3.69,3.52,0],[3.81,3.53,0],[3.55,3.26,0],[3.50,2.81,0],
  [2.11,2.77,0],[2.18,2.72,0],[2.19,2.74,0],[2.24,2.68,0],[2.28,2.65,0],[2.34,2.66,0],[2.34,2.78,0],[2.26,2.79,0],[2.43,2.75,0],[2.50,2.73,0],[2.45,2.61,0],[2.37,2.55,0],[2.52,2.57,0],[2.55,2.52,0],[2.13,2.50,0],[2.14,2.43,0],[2.29,2.50,0],[2.31,2.38,0],[2.15,2.20,0],[2.28,2.15,0],[2.20,2.08,0.1],[2.23,2.08,0],[2.32,2.10,0],[2.61,2.65,0]
];

const seriesLabels = ['Generic Sources', 'BZBs', 'BZQs', 'Sy 2'];
const seriesColours = ['rgba(150,150,150,0.6)', '#0000ff', '#ff0000', '#bcbd22'];

const toXY = (list) => list.map((p) => ({ x: p[0], y: p[1] }));

// error bars under the Sy 2 markers, legend box and the frame
const extrasPlugin = {
  id: 'extras',
  beforeDatasetDraw(chart, args) {
    if (chart.data.datasets[args.index].label !== 'Sy 2') return;
    const { ctx, scales } = chart;
    ctx.save();
    ctx.strokeStyle = 'rgba(188,189,34,0.6)';
    ctx.lineWidth = 2.5;
    sy2Points.forEach((p) => {
      if (!p[2]) return;
      const py = scales.y.getPixelForValue(p[1]);
      ctx.beginPath();
      ctx.moveTo(scales.x.getPixelForValue(p[0] - p[2]), py);
      ctx.lineTo(scales.x.getPixelForValue(p[0] + p[2]), py);
      ctx.stroke();
    });
    ctx.restore();
  },
  afterDatasetsDraw(chart) {
    const { ctx, chartArea } = chart;
    ctx.save();
    ctx.strokeStyle = '#000';
    ctx.lineWidth = 1.5;
    ctx.strokeRect(chartArea.left, chartArea.top, chartArea.right - chartArea.left, chartArea.bottom - chartArea.top);
    ctx.restore();
  },
  afterDraw(chart) {
    const { ctx } = chart;
    ctx.save();
    const bx = 139.5, by = 37.5, bw = 281, bh = 158;
    ctx.beginPath();
    ctx.roundRect(bx, by, bw, bh, 5);
    ctx.fillStyle = 'rgba(255,255,255,0.8)';
    ctx.fill();
    ctx.strokeStyle = '#cccccc';
    ctx.lineWidth = 1.5;
    ctx.stroke();

    const rowY = [60, 99, 136, 172];
    const markX = 172;
    ctx.font = '24px "DejaVu Sans"';
    ctx.textBaseline = 'middle';
    seriesLabels.forEach((label, i) => {
      const y = rowY[i];
      if (i === 3) {
        ctx.strokeStyle = 'rgba(188,189,34,0.6)';
        ctx.lineWidth = 2.5;
        ctx.beginPath();
        ctx.moveTo(markX - 13, y); ctx.lineTo(markX + 13, y);
        ctx.moveTo(markX, y - 13); ctx.lineTo(markX, y + 13);
        ctx.stroke();
      }
      ctx.beginPath();
      ctx.arc(markX, y, [1.8, 2.8, 2.8, 7.5][i], 0, Math.PI * 2);
      ctx.fillStyle = seriesColours[i];
      ctx.fill();
      ctx.fillStyle = '#262626';
      ctx.fillText(label, 215, y + 1);
    });
    ctx.restore();
  }
};

Chart.defaults.font.family = '"DejaVu Sans", sans-serif';
Chart.defaults.color = '#262626';

new Chart(document.getElementById('colourChart'), {
  type: 'scatter',
  data: {
    datasets: [
      {
        label: seriesLabels[3],
        data: toXY(sy2Points),
        backgroundColor: seriesColours[3],
        pointRadius: 7.5,
        pointBorderWidth: 0,
        order: 0,
      },
      {
        label: seriesLabels[2],
        data: toXY(bzqPoints),
        backgroundColor: seriesColours[2],
        pointRadius: 3,
        pointBorderWidth: 0,
        order: 1,
      },
      {
        label: seriesLabels[1],
        data: toXY(bzbPoints),
        backgroundColor: seriesColours[1],
        pointRadius: 3,
        pointBorderWidth: 0,
        order: 2,
      },
      {
        label: seriesLabels[0],
        data: toXY(genericCloud.concat(genericCloudFill)),
        backgroundColor: 'rgba(105,105,105,0.48)',
        pointRadius: 4.3,
        pointBorderWidth: 0,
        order: 3,
      },
      {
        label: seriesLabels[0],
        data: toXY(genericSparse),
        backgroundColor: seriesColours[0],
        pointRadius: 2,
        pointBorderWidth: 0,
        order: 4,
      },
    ],
  },
  options: {
    responsive: false,
    animation: false,
    events: [],
    layout: { padding: { top: 24, right: 38, left: 0, bottom: 0 } },
    plugins: { legend: { display: false }, tooltip: { enabled: false } },
    scales: {
      x: {
        type: 'linear',
        min: 1,
        max: 4,
        border: { display: false },
        grid: { drawOnChartArea: false, drawTicks: true, tickLength: 7, color: '#000', lineWidth: 1.3 },
        ticks: {
          stepSize: 0.5,
          padding: 2,
          maxRotation: 0,
          autoSkip: false,
          font: { size: 24 },
          callback: (value, index) => xTickLabels[index],
        },
        title: { display: true, text: 'W3-W4 (mag)', font: { size: 24 }, padding: { top: 0, bottom: 7 } },
        afterFit(scale) { scale.height = 93; },
      },
      y: {
        type: 'linear',
        min: 1,
        max: 5,
        border: { display: false },
        grid: { drawOnChartArea: false, drawTicks: true, tickLength: 7, color: '#000', lineWidth: 1.3 },
        ticks: {
          stepSize: 0.5,
          padding: 8,
          autoSkip: false,
          font: { size: 24 },
          callback: (value, index) => yTickLabels[index],
        },
        title: { display: true, text: 'W2-W3 (mag)', font: { size: 24 }, padding: { top: 28, bottom: 0 } },
        afterFit(scale) { scale.width = 128; },
      },
    },
  },
  plugins: [extrasPlugin],
});
</script>
</body>
</html>
